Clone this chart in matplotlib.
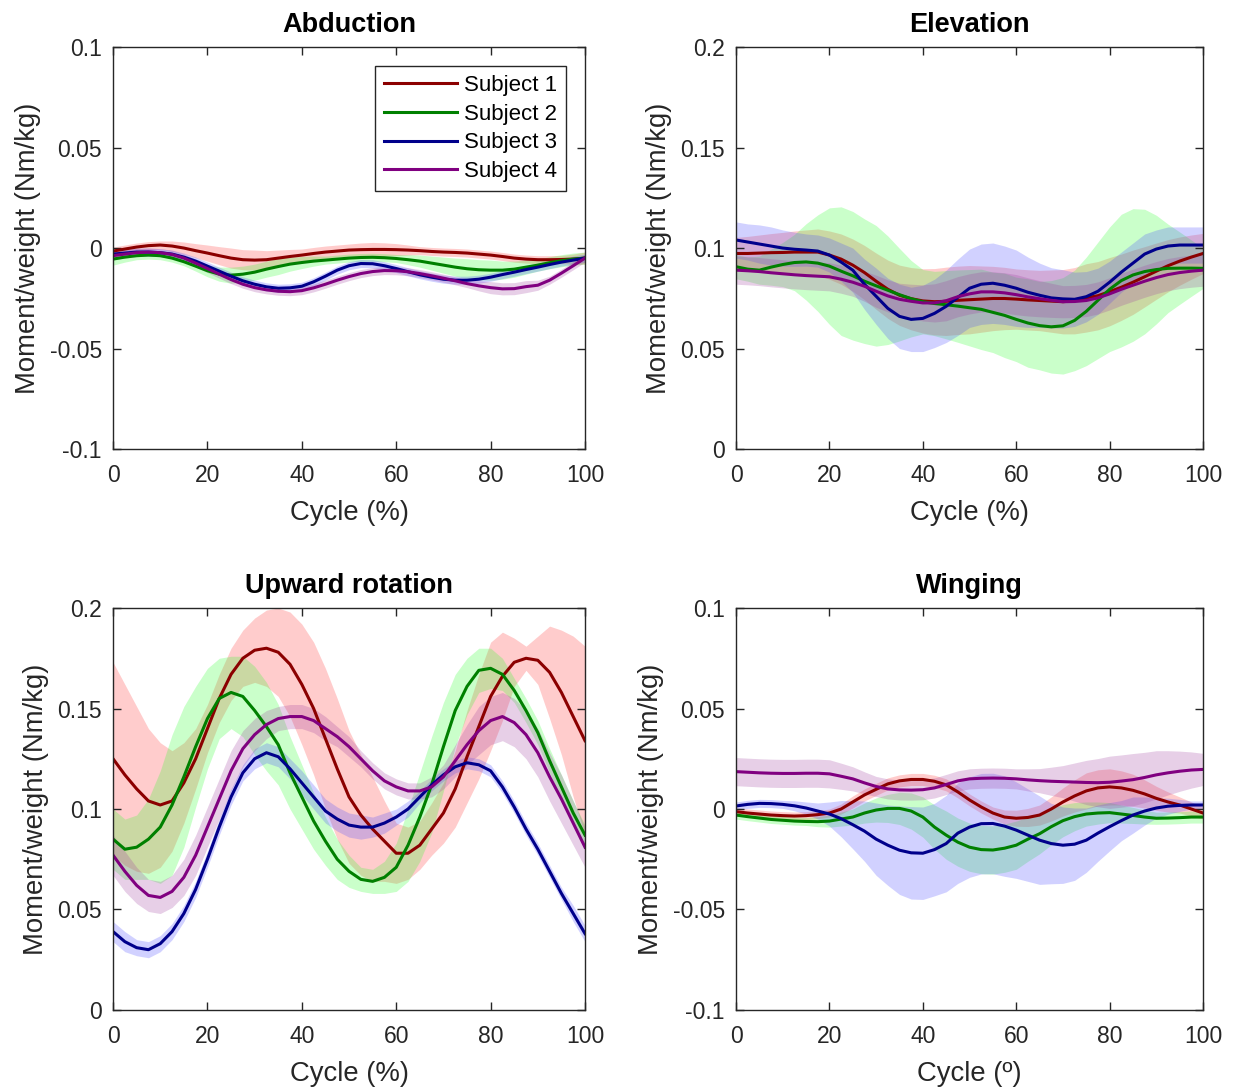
import numpy as np
import matplotlib
matplotlib.use('Agg')
import matplotlib.pyplot as plt

plt.rcParams['font.family'] = ['Liberation Sans', 'DejaVu Sans']

# --- cycle positions (%), every 2.5 % ---
cycle = [0, 2.5, 5, 7.5, 10, 12.5, 15, 17.5, 20, 22.5, 25, 27.5, 30, 32.5, 35, 37.5, 40,
         42.5, 45, 47.5, 50, 52.5, 55, 57.5, 60, 62.5, 65, 67.5, 70, 72.5, 75, 77.5, 80,
         82.5, 85, 87.5, 90, 92.5, 95, 97.5, 100]

subjects = ["Subject 1", "Subject 2", "Subject 3", "Subject 4"]
line_colors = ["#8b0000", "#008000", "#00008b", "#800080"]
band_colors = ["#ff4a4a", "#2cff2c", "#4a4aff", "#a040a0"]
band_alpha = [0.28, 0.25, 0.25, 0.25]

# --- Abduction: mean and std per subject ---
abd_s1 = [-0.0015, -0.0005, 0.0005, 0.0012, 0.0015, 0.001, 0.000, -0.0013, -0.0025, -0.0038,
          -0.005, -0.0058, -0.006, -0.0058, -0.005, -0.0042, -0.0035, -0.0027, -0.002, -0.0015,
          -0.001, -0.0008, -0.0007, -0.0007, -0.0008, -0.001, -0.0013, -0.0017, -0.002, -0.0022,
          -0.0025, -0.003, -0.0035, -0.0042, -0.005, -0.0055, -0.0058, -0.0058, -0.0057, -0.0055,
          -0.005]
abd_s2 = [-0.0055, -0.0045, -0.0038, -0.0035, -0.0038, -0.005, -0.0068, -0.009, -0.0113, -0.013,
          -0.0135, -0.013, -0.012, -0.0105, -0.0092, -0.008, -0.0072, -0.0065, -0.006, -0.0055,
          -0.005, -0.0047, -0.0046, -0.0048, -0.0052, -0.0058, -0.0065, -0.0075, -0.0085, -0.0095,
          -0.0103, -0.0108, -0.011, -0.011, -0.0105, -0.0095, -0.0085, -0.0073, -0.0063, -0.0055,
          -0.005]
abd_s3 = [-0.003, -0.0025, -0.002, -0.002, -0.0023, -0.003, -0.0045, -0.0065, -0.009, -0.0115,
          -0.014, -0.0163, -0.018, -0.0193, -0.020, -0.0198, -0.019, -0.0168, -0.014, -0.011,
          -0.0088, -0.0077, -0.0078, -0.0088, -0.0102, -0.0118, -0.0133, -0.0145, -0.0155, -0.016,
          -0.016, -0.0155, -0.0145, -0.0132, -0.012, -0.0107, -0.0095, -0.0082, -0.007, -0.006,
          -0.005]
abd_s4 = [-0.0038, -0.003, -0.0023, -0.002, -0.0023, -0.0032, -0.005, -0.0075, -0.0102, -0.013,
          -0.0157, -0.018, -0.0197, -0.0208, -0.0215, -0.0217, -0.0212, -0.0198, -0.018, -0.016,
          -0.0142, -0.0127, -0.0117, -0.0112, -0.0113, -0.0118, -0.0127, -0.0138, -0.015, -0.0163,
          -0.0177, -0.0188, -0.0197, -0.0203, -0.0202, -0.0192, -0.0185, -0.016, -0.0125, -0.0088,
          -0.005]
abd_sd1 = [0.002, 0.002, 0.002, 0.002, 0.002, 0.0025, 0.003, 0.0035, 0.004, 0.0045,
           0.005, 0.005, 0.005, 0.0045, 0.004, 0.0035, 0.003, 0.003, 0.003, 0.003,
           0.003, 0.0033, 0.0035, 0.0033, 0.003, 0.0025, 0.002, 0.002, 0.002, 0.002,
           0.002, 0.002, 0.002, 0.002, 0.002, 0.002, 0.002, 0.002, 0.002, 0.0025, 0.003]
abd_sd2 = [0.003, 0.0025, 0.002, 0.002, 0.002, 0.002, 0.002, 0.0025, 0.003, 0.0035,
           0.004, 0.004, 0.004, 0.004, 0.004, 0.0035, 0.003, 0.0025, 0.002, 0.002,
           0.002, 0.002, 0.002, 0.002, 0.002, 0.0025, 0.003, 0.0035, 0.004, 0.0045,
           0.005, 0.005, 0.005, 0.0045, 0.004, 0.0035, 0.003, 0.003, 0.003, 0.003, 0.003]
abd_sd3 = [0.002, 0.002, 0.002, 0.002, 0.002, 0.002, 0.002, 0.002, 0.002, 0.002,
           0.002, 0.002, 0.002, 0.002, 0.002, 0.002, 0.002, 0.002, 0.002, 0.002,
           0.002, 0.002, 0.002, 0.002, 0.002, 0.002, 0.002, 0.002, 0.002, 0.002,
           0.002, 0.002, 0.002, 0.002, 0.002, 0.002, 0.002, 0.002, 0.002, 0.002, 0.002]
abd_sd4 = [0.002, 0.002, 0.002, 0.002, 0.002, 0.002, 0.002, 0.002, 0.002, 0.002,
           0.002, 0.002, 0.002, 0.002, 0.002, 0.002, 0.002, 0.002, 0.002, 0.002,
           0.002, 0.002, 0.002, 0.002, 0.002, 0.002, 0.002, 0.002, 0.002, 0.002,
           0.002, 0.0025, 0.003, 0.003, 0.003, 0.003, 0.0025, 0.002, 0.002, 0.002, 0.002]

# --- Elevation ---
ele_s1 = [0.0973, 0.0973, 0.0975, 0.0977, 0.0978, 0.098, 0.098, 0.098, 0.0965, 0.0945,
          0.0915, 0.0878, 0.0835, 0.0795, 0.0765, 0.0748, 0.0737, 0.0733, 0.0735, 0.074,
          0.0743, 0.0746, 0.0749, 0.0749, 0.0746, 0.0742, 0.0739, 0.0736, 0.0733, 0.0738,
          0.0752, 0.0763, 0.0783, 0.0805, 0.083, 0.0857, 0.0885, 0.0912, 0.0935, 0.0955, 0.0973]
ele_s2 = [0.0907, 0.0895, 0.089, 0.0905, 0.0918, 0.0928, 0.0931, 0.0925, 0.091, 0.0885,
          0.0862, 0.0835, 0.0812, 0.079, 0.0768, 0.0748, 0.0733, 0.0724, 0.0718, 0.0711,
          0.0703, 0.0695, 0.068, 0.0665, 0.0645, 0.0627, 0.0614, 0.0608, 0.0613, 0.064,
          0.0685, 0.074, 0.0795, 0.0838, 0.0866, 0.0883, 0.0893, 0.0899, 0.090, 0.090, 0.0899]
ele_s3 = [0.104, 0.103, 0.102, 0.101, 0.100, 0.0994, 0.099, 0.0985, 0.0965, 0.093,
          0.089, 0.082, 0.076, 0.070, 0.066, 0.0645, 0.065, 0.0675, 0.071, 0.0755,
          0.080, 0.082, 0.0825, 0.0815, 0.080, 0.078, 0.0765, 0.0752, 0.0747, 0.0745,
          0.0758, 0.0785, 0.083, 0.088, 0.0925, 0.097, 0.0995, 0.101, 0.1015, 0.1015, 0.1015]
ele_s4 = [0.089, 0.0887, 0.0883, 0.0877, 0.0872, 0.0867, 0.0863, 0.086, 0.0857, 0.0845,
          0.083, 0.081, 0.0785, 0.0762, 0.0745, 0.0735, 0.0727, 0.0727, 0.0738, 0.0758,
          0.0772, 0.0782, 0.0782, 0.0777, 0.0768, 0.0757, 0.0748, 0.074, 0.0733, 0.0734,
          0.0739, 0.0752, 0.0772, 0.0795, 0.0815, 0.0835, 0.0853, 0.0868, 0.0878, 0.0885, 0.089]
ele_sd1 = [0.008, 0.0085, 0.009, 0.0095, 0.010, 0.0105, 0.011, 0.0115, 0.012, 0.0125,
           0.013, 0.0135, 0.014, 0.0145, 0.015, 0.0155, 0.016, 0.0165, 0.017, 0.017,
           0.017, 0.0165, 0.016, 0.0155, 0.015, 0.015, 0.015, 0.0155, 0.016, 0.0165,
           0.017, 0.017, 0.017, 0.0165, 0.016, 0.015, 0.014, 0.013, 0.012, 0.011, 0.010]
ele_sd2 = [0.006, 0.006, 0.007, 0.009, 0.011, 0.014, 0.019, 0.024, 0.029, 0.032,
           0.032, 0.031, 0.030, 0.027, 0.023, 0.019, 0.016, 0.016, 0.017, 0.018,
           0.019, 0.020, 0.020, 0.021, 0.021, 0.022, 0.022, 0.023, 0.024, 0.025,
           0.027, 0.029, 0.031, 0.033, 0.033, 0.031, 0.027, 0.022, 0.018, 0.014, 0.010]
ele_sd3 = [0.009, 0.009, 0.0095, 0.0095, 0.009, 0.0085, 0.008, 0.008, 0.0085, 0.0095,
           0.011, 0.0125, 0.014, 0.015, 0.016, 0.016, 0.0165, 0.017, 0.018, 0.019,
           0.0195, 0.020, 0.020, 0.0195, 0.019, 0.0175, 0.016, 0.015, 0.0145, 0.0135,
           0.0125, 0.0115, 0.0105, 0.010, 0.010, 0.010, 0.0095, 0.0095, 0.009, 0.009, 0.009]
ele_sd4 = [0.007, 0.007, 0.007, 0.007, 0.007, 0.007, 0.007, 0.007, 0.007, 0.007,
           0.007, 0.0075, 0.008, 0.008, 0.008, 0.0085, 0.009, 0.0095, 0.010, 0.010,
           0.010, 0.010, 0.010, 0.010, 0.010, 0.0095, 0.009, 0.0085, 0.008, 0.008,
           0.008, 0.008, 0.008, 0.008, 0.008, 0.008, 0.008, 0.008, 0.008, 0.008, 0.008]

# --- Upward rotation ---
upr_s1 = [0.125, 0.117, 0.110, 0.104, 0.102, 0.104, 0.113, 0.125, 0.140, 0.155,
          0.167, 0.175, 0.179, 0.180, 0.178, 0.172, 0.162, 0.150, 0.135, 0.120,
          0.106, 0.097, 0.090, 0.084, 0.078, 0.078, 0.082, 0.090, 0.098, 0.110,
          0.126, 0.141, 0.156, 0.166, 0.173, 0.175, 0.174, 0.168, 0.158, 0.146, 0.134]
upr_s2 = [0.085, 0.080, 0.081, 0.085, 0.091, 0.102, 0.116, 0.131, 0.145, 0.155,
          0.158, 0.156, 0.149, 0.141, 0.132, 0.118, 0.106, 0.094, 0.084, 0.075,
          0.069, 0.065, 0.064, 0.066, 0.071, 0.082, 0.096, 0.112, 0.131, 0.149,
          0.161, 0.169, 0.170, 0.167, 0.159, 0.149, 0.138, 0.124, 0.111, 0.098, 0.087]
upr_s3 = [0.039, 0.034, 0.031, 0.030, 0.033, 0.039, 0.048, 0.060, 0.075, 0.091,
          0.106, 0.118, 0.125, 0.128, 0.126, 0.120, 0.113, 0.106, 0.099, 0.095,
          0.092, 0.091, 0.091, 0.093, 0.096, 0.100, 0.106, 0.112, 0.117, 0.121,
          0.123, 0.122, 0.119, 0.111, 0.101, 0.090, 0.080, 0.069, 0.058, 0.048, 0.038]
upr_s4 = [0.077, 0.069, 0.062, 0.057, 0.056, 0.059, 0.066, 0.077, 0.091, 0.105,
          0.119, 0.130, 0.137, 0.142, 0.145, 0.146, 0.146, 0.144, 0.140, 0.136,
          0.131, 0.125, 0.119, 0.114, 0.111, 0.109, 0.109, 0.111, 0.116, 0.124,
          0.132, 0.139, 0.144, 0.146, 0.143, 0.137, 0.128, 0.116, 0.105, 0.093, 0.081]
upr_sd1 = [0.048, 0.045, 0.041, 0.036, 0.031, 0.025, 0.020, 0.015, 0.012, 0.012,
           0.013, 0.014, 0.016, 0.019, 0.022, 0.026, 0.030, 0.033, 0.035, 0.035,
           0.033, 0.030, 0.026, 0.020, 0.015, 0.013, 0.012, 0.013, 0.015, 0.019,
           0.023, 0.026, 0.027, 0.022, 0.012, 0.006, 0.012, 0.023, 0.031, 0.040, 0.047]
upr_sd2 = [0.015, 0.015, 0.016, 0.020, 0.028, 0.035, 0.035, 0.030, 0.025, 0.020,
           0.018, 0.020, 0.022, 0.022, 0.020, 0.018, 0.016, 0.014, 0.012, 0.010,
           0.008, 0.006, 0.006, 0.008, 0.012, 0.018, 0.022, 0.024, 0.022, 0.018,
           0.014, 0.011, 0.010, 0.008, 0.006, 0.006, 0.006, 0.006, 0.006, 0.006, 0.005]
upr_sd3 = [0.005, 0.005, 0.004, 0.004, 0.004, 0.004, 0.004, 0.004, 0.004, 0.004,
           0.004, 0.004, 0.005, 0.005, 0.005, 0.005, 0.006, 0.006, 0.006, 0.006,
           0.006, 0.006, 0.005, 0.005, 0.004, 0.004, 0.003, 0.003, 0.003, 0.003,
           0.003, 0.003, 0.003, 0.003, 0.003, 0.003, 0.003, 0.003, 0.003, 0.004, 0.004]
upr_sd4 = [0.010, 0.010, 0.009, 0.008, 0.008, 0.008, 0.009, 0.010, 0.010, 0.010,
           0.010, 0.009, 0.008, 0.007, 0.006, 0.006, 0.006, 0.006, 0.006, 0.005,
           0.005, 0.004, 0.004, 0.004, 0.004, 0.004, 0.004, 0.005, 0.006, 0.008,
           0.010, 0.012, 0.012, 0.012, 0.012, 0.012, 0.012, 0.012, 0.012, 0.011, 0.010]

# --- Winging ---
win_s1 = [-0.0013, -0.002, -0.0025, -0.003, -0.0033, -0.0035, -0.0033, -0.0028, -0.002, 0.000,
          0.0035, 0.007, 0.0098, 0.0125, 0.014, 0.0147, 0.0147, 0.0138, 0.012, 0.0085,
          0.0045, 0.001, -0.002, -0.004, -0.0046, -0.0042, -0.003, 0.000, 0.0035, 0.0065,
          0.009, 0.0105, 0.011, 0.0105, 0.0093, 0.0075, 0.0053, 0.0035, 0.002, 0.000, -0.002]
win_s2 = [-0.003, -0.0038, -0.0045, -0.0052, -0.0056, -0.006, -0.0062, -0.0063, -0.006, -0.005,
          -0.004, -0.002, -0.0005, 0.0003, 0.0003, -0.001, -0.004, -0.009, -0.013, -0.0165,
          -0.019, -0.0202, -0.0204, -0.0195, -0.018, -0.015, -0.0123, -0.0088, -0.0058, -0.0038,
          -0.0025, -0.002, -0.0018, -0.0025, -0.0032, -0.004, -0.0046, -0.0045, -0.0043, -0.004,
          -0.004]
win_s3 = [0.0015, 0.0023, 0.0028, 0.0027, 0.0023, 0.0016, 0.0005, -0.001, -0.0025, -0.0048,
          -0.0078, -0.011, -0.015, -0.018, -0.0205, -0.0218, -0.022, -0.0202, -0.0172, -0.012,
          -0.009, -0.0073, -0.0072, -0.0085, -0.0105, -0.013, -0.0155, -0.0172, -0.018, -0.0175,
          -0.0155, -0.012, -0.0088, -0.0058, -0.003, -0.001, 0.0005, 0.0014, 0.0018, 0.002, 0.002]
win_s4 = [0.0186, 0.0183, 0.018, 0.0178, 0.0177, 0.0177, 0.0178, 0.0178, 0.0175, 0.0163,
          0.015, 0.013, 0.0112, 0.010, 0.0095, 0.0094, 0.0096, 0.0105, 0.0122, 0.014,
          0.015, 0.0153, 0.0154, 0.0153, 0.015, 0.0145, 0.0141, 0.0138, 0.0136, 0.0134,
          0.0132, 0.0131, 0.0133, 0.0139, 0.0146, 0.0157, 0.017, 0.018, 0.0188, 0.0194, 0.0197]
win_sd1 = [0.002, 0.002, 0.002, 0.002, 0.002, 0.002, 0.002, 0.002, 0.002, 0.0025,
           0.003, 0.003, 0.003, 0.003, 0.003, 0.003, 0.003, 0.003, 0.003, 0.003,
           0.003, 0.003, 0.003, 0.0035, 0.004, 0.0045, 0.005, 0.006, 0.007, 0.008,
           0.009, 0.009, 0.009, 0.0085, 0.008, 0.007, 0.006, 0.005, 0.004, 0.0035, 0.003]
win_sd2 = [0.002, 0.002, 0.002, 0.002, 0.002, 0.002, 0.002, 0.0025, 0.003, 0.0035,
           0.004, 0.005, 0.006, 0.007, 0.008, 0.009, 0.010, 0.011, 0.012, 0.012,
           0.012, 0.012, 0.012, 0.012, 0.012, 0.011, 0.010, 0.009, 0.008, 0.007,
           0.006, 0.0055, 0.005, 0.0045, 0.004, 0.0035, 0.003, 0.003, 0.003, 0.003, 0.003]
win_sd3 = [0.002, 0.002, 0.002, 0.002, 0.002, 0.0025, 0.003, 0.004, 0.006, 0.009,
           0.012, 0.015, 0.018, 0.020, 0.022, 0.023, 0.023, 0.023, 0.024, 0.025,
           0.025, 0.025, 0.025, 0.025, 0.024, 0.023, 0.022, 0.020, 0.019, 0.018,
           0.016, 0.014, 0.012, 0.010, 0.009, 0.007, 0.005, 0.004, 0.003, 0.002, 0.002]
win_sd4 = [0.007, 0.007, 0.007, 0.007, 0.007, 0.007, 0.007, 0.007, 0.007, 0.0065,
           0.006, 0.0055, 0.005, 0.005, 0.005, 0.005, 0.005, 0.005, 0.005, 0.005,
           0.005, 0.005, 0.005, 0.005, 0.005, 0.0055, 0.006, 0.007, 0.008, 0.0095,
           0.011, 0.012, 0.013, 0.013, 0.013, 0.0125, 0.012, 0.011, 0.010, 0.009, 0.008]

ticks_pm = ([-0.1, -0.05, 0, 0.05, 0.1], ["-0.1", "-0.05", "0", "0.05", "0.1"])
ticks_pos = ([0, 0.05, 0.1, 0.15, 0.2], ["0", "0.05", "0.1", "0.15", "0.2"])

panels = [
    ("Abduction", [abd_s1, abd_s2, abd_s3, abd_s4], [abd_sd1, abd_sd2, abd_sd3, abd_sd4],
     (-0.1, 0.1), ticks_pm, "Cycle (%)"),
    ("Elevation", [ele_s1, ele_s2, ele_s3, ele_s4], [ele_sd1, ele_sd2, ele_sd3, ele_sd4],
     (0, 0.2), ticks_pos, "Cycle (%)"),
    ("Upward rotation", [upr_s1, upr_s2, upr_s3, upr_s4], [upr_sd1, upr_sd2, upr_sd3, upr_sd4],
     (0, 0.2), ticks_pos, "Cycle (%)"),
    ("Winging", [win_s1, win_s2, win_s3, win_s4], [win_sd1, win_sd2, win_sd3, win_sd4],
     (-0.1, 0.1), ticks_pm, "Cycle (º)"),
]

# axes rectangles in figure fractions (left, bottom, width, height)
rects = [
    (0.0911, 0.5888, 0.3803, 0.3681),
    (0.5931, 0.5888, 0.3763, 0.3681),
    (0.0911, 0.0751, 0.3803, 0.3681),
    (0.5931, 0.0751, 0.3763, 0.3681),
]

fig = plt.figure(figsize=(12.41, 10.92), dpi=100)
x = np.array(cycle)

for k, (title, means, sds, ylim, yt, xlabel) in enumerate(panels):
    ax = fig.add_axes(rects[k])
    # bands first, then the mean lines on top
    for m, sd, bc, a in zip(means, sds, band_colors, band_alpha):
        m = np.array(m)
        sd = np.array(sd)
        ax.fill_between(x, m - sd, m + sd, color=bc, alpha=a, linewidth=0)
    for m, lc, name in zip(means, line_colors, subjects):
        ax.plot(x, m, color=lc, linewidth=2.2, label=name, solid_joinstyle='round')

    ax.set_xlim(0, 100)
    ax.set_ylim(*ylim)
    ax.set_xticks([0, 20, 40, 60, 80, 100])
    ax.set_yticks(yt[0])
    ax.set_yticklabels(yt[1])
    ax.tick_params(direction='in', top=True, right=True, length=6, width=1,
                   labelsize=16.5, colors='#262626')
    ax.tick_params(axis='x', pad=11)
    ax.tick_params(axis='y', pad=8)
    for sp in ax.spines.values():
        sp.set_color('#262626')
        sp.set_linewidth(1)
    ax.set_title(title, fontsize=19.5, fontweight='bold', pad=11)
    ax.set_xlabel(xlabel, fontsize=19.8, color='#262626', labelpad=9)
    ax.set_ylabel("Moment/weight (Nm/kg)", fontsize=19.8, color='#262626', labelpad=6)

    if k == 0:
        leg = ax.legend(loc='upper right', fontsize=16, handlelength=3.3,
                        handletextpad=0.3, borderpad=0.4, labelspacing=0.35,
                        borderaxespad=0.85, fancybox=False, framealpha=1,
                        edgecolor='#262626')
        leg.get_frame().set_linewidth(1)

plt.savefig("out.png", dpi=100)
